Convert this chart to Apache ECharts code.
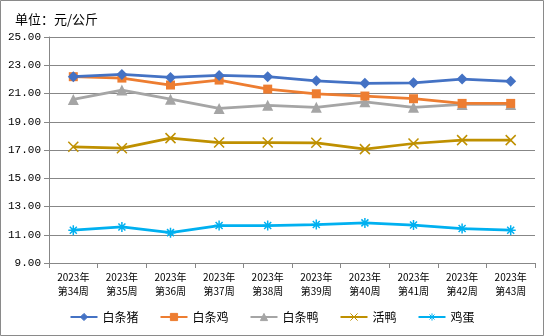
<!DOCTYPE html>
<html><head><meta charset="utf-8">
<script src="https://cdn.jsdelivr.net/npm/echarts@6/dist/echarts.min.js"></script>
<style>html,body{margin:0;padding:0;background:#fff}#c{width:544px;height:336px}</style>
</head><body><div id="c"></div>
<script>
const categories = ['2023年\n第34周','2023年\n第35周','2023年\n第36周','2023年\n第37周','2023年\n第38周','2023年\n第39周','2023年\n第40周','2023年\n第41周','2023年\n第42周','2023年\n第43周'];
const pork = [22.19, 22.35, 22.14, 22.28, 22.19, 21.90, 21.72, 21.76, 22.02, 21.86];
const chicken = [22.19, 22.09, 21.60, 21.95, 21.31, 20.98, 20.82, 20.63, 20.30, 20.30];
const duck = [20.58, 21.24, 20.60, 19.94, 20.16, 20.02, 20.41, 20.02, 20.23, 20.23];
const liveDuck = [17.23, 17.13, 17.84, 17.53, 17.53, 17.51, 17.06, 17.46, 17.70, 17.70];
const egg = [11.32, 11.55, 11.15, 11.65, 11.65, 11.72, 11.84, 11.69, 11.44, 11.32];
const seriesNames = ['白条猪','白条鸡','白条鸭','活鸭','鸡蛋'];
const yTicks = {min: 9, max: 25, interval: 2};

const colors = ['#4472C4','#ED7D31','#A5A5A5','#BF9000','#00B0F0'];
const symbols = ['diamond','rect','triangle','path://M0,0L10,10M10,0L0,10','path://M0,5L10,5M5,0L5,10M1.5,1.5L8.5,8.5M8.5,1.5L1.5,8.5'];
const sizes = [11, 9, 11, 10, 10];
const datas = [pork, chicken, duck, liveDuck, egg];
const chart = echarts.init(document.getElementById('c'));
const cjk = '"Noto Sans CJK SC", sans-serif';
chart.setOption({
  animation: false,
  color: colors,
  graphic: [{type:'rect', shape:{x:0.5,y:0.5,width:543,height:335}, style:{fill:'none', stroke:'#8a8a8a', lineWidth:1}, silent:true}],
  title: {text: '单位：元/公斤', left: 10, top: 8, textStyle: {fontFamily: cjk, fontSize: 13, fontWeight: 'normal', color: '#000'}},
  grid: {left: 49, right: 9, top: 37, bottom: 73, containLabel: false},
  legend: {
    data: seriesNames, bottom: 8, left: 'center', itemWidth: 27, itemHeight: 9, itemGap: 21,
    itemStyle: {borderWidth: 1},
    textStyle: {fontFamily: cjk, fontSize: 12, color: '#000'}
  },
  xAxis: {
    type: 'category', data: categories, boundaryGap: true,
    axisLine: {lineStyle: {color: '#878787', width: 1}},
    axisTick: {show: true, length: 5, lineStyle: {color: '#878787'}},
    axisLabel: {fontFamily: cjk, fontSize: 10, lineHeight: 14, color: '#000', margin: 7, interval: 0}
  },
  yAxis: {
    type: 'value', min: yTicks.min, max: yTicks.max, interval: yTicks.interval,
    axisLine: {show: true, lineStyle: {color: '#878787'}},
    axisTick: {show: true, length: 5, lineStyle: {color: '#878787'}},
    axisLabel: {fontFamily: '"Liberation Mono", monospace', fontSize: 11, color: '#000', margin: 8, formatter: v => v.toFixed(2)},
    splitLine: {show: true, lineStyle: {color: '#878787', width: 1}}
  },
  series: datas.map((d, i) => ({
    name: seriesNames[i], type: 'line', data: d,
    symbol: symbols[i], symbolSize: sizes[i], showSymbol: true,
    lineStyle: {width: 2.75, color: colors[i]},
    itemStyle: {color: colors[i], borderColor: colors[i], borderWidth: i >= 3 ? 1.5 : 0},
    z: 10 - i
  }))
});
</script></body></html>
